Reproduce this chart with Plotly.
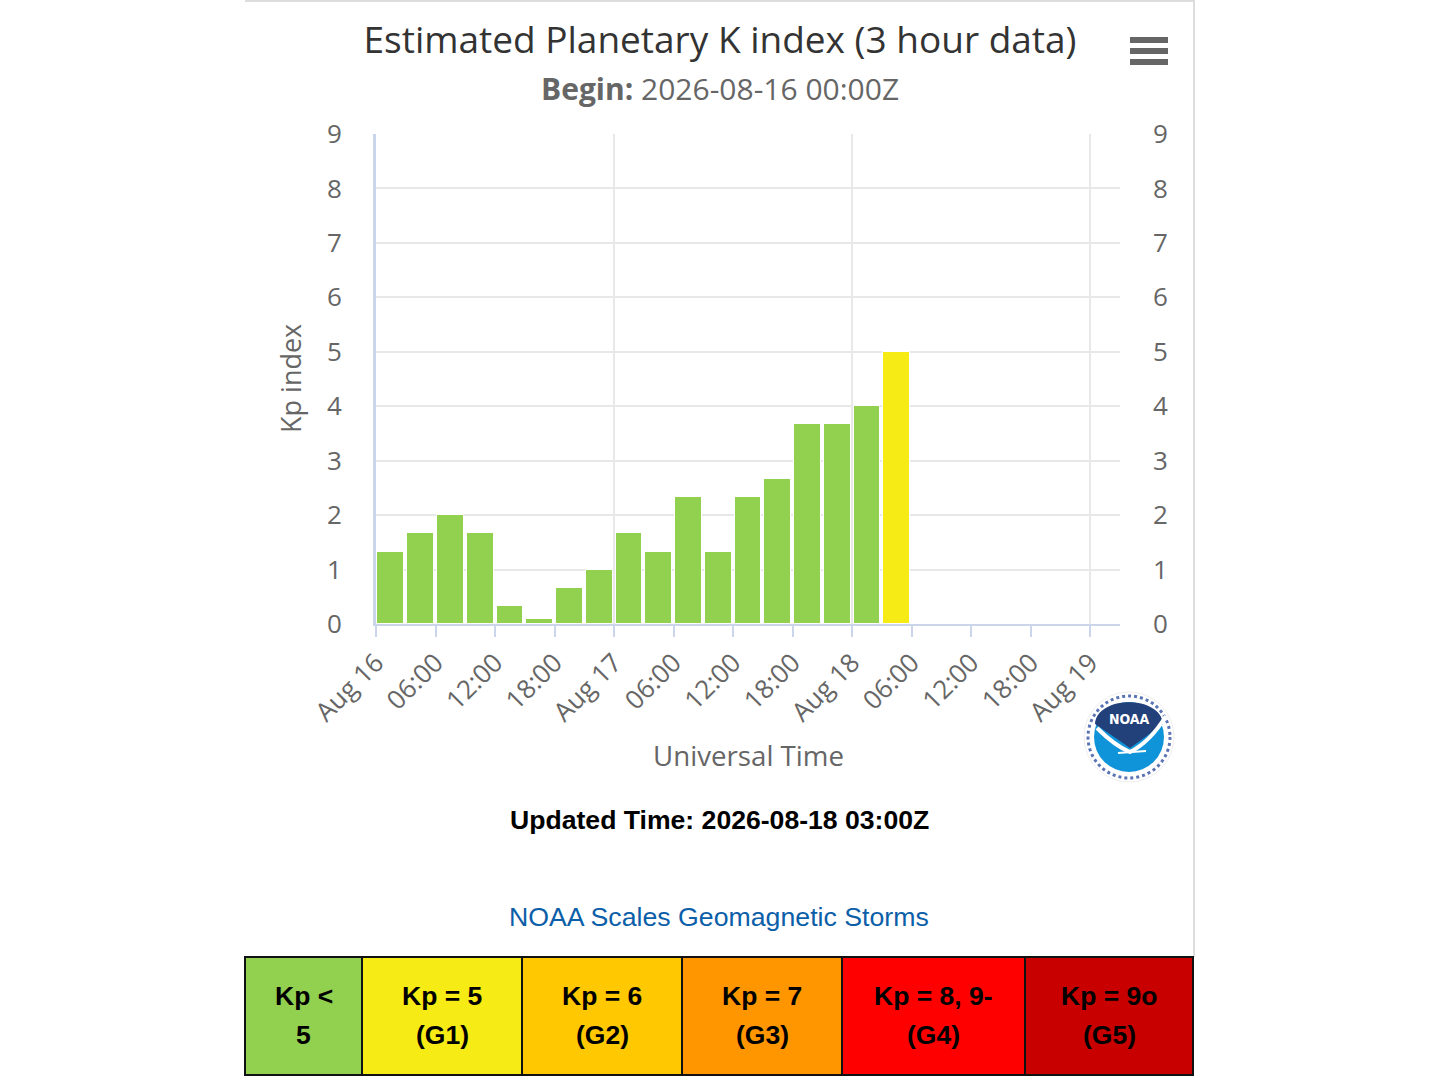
import plotly.graph_objects as go

W, H = 1440, 1080

# 3-hour Kp slots (start time of each slot) and the estimated Kp
slot_start = [
    "2026-08-16 00:00", "2026-08-16 03:00", "2026-08-16 06:00", "2026-08-16 09:00",
    "2026-08-16 12:00", "2026-08-16 15:00", "2026-08-16 18:00", "2026-08-16 21:00",
    "2026-08-17 00:00", "2026-08-17 03:00", "2026-08-17 06:00", "2026-08-17 09:00",
    "2026-08-17 12:00", "2026-08-17 15:00", "2026-08-17 18:00", "2026-08-17 21:00",
    "2026-08-18 00:00", "2026-08-18 03:00",
]
kp_values = [1.33, 1.67, 2.0, 1.67, 0.33, 0.1, 0.67, 1.0, 1.67,
             1.33, 2.33, 1.33, 2.33, 2.67, 3.67, 3.67, 4.0, 5.0]

tick_times = [
    "2026-08-16 00:00", "2026-08-16 06:00", "2026-08-16 12:00", "2026-08-16 18:00",
    "2026-08-17 00:00", "2026-08-17 06:00", "2026-08-17 12:00", "2026-08-17 18:00",
    "2026-08-18 00:00", "2026-08-18 06:00", "2026-08-18 12:00", "2026-08-18 18:00",
    "2026-08-19 00:00",
]
tick_labels = ["Aug 16", "06:00", "12:00", "18:00", "Aug 17", "06:00", "12:00",
               "18:00", "Aug 18", "06:00", "12:00", "18:00", "Aug 19"]
day_lines = ["2026-08-16 00:00", "2026-08-17 00:00", "2026-08-18 00:00", "2026-08-19 00:00"]
x_range = ["2026-08-16 00:00", "2026-08-19 03:00"]

# NOAA G-scale legend
scale_kp = [0, 5, 6, 7, 8, 9.5]
scale_top = ["Kp <", "Kp = 5", "Kp = 6", "Kp = 7", "Kp = 8, 9-", "Kp = 9o"]
scale_bottom = ["5", "(G1)", "(G2)", "(G3)", "(G4)", "(G5)"]
scale_colors = ["#92d050", "#f6eb14", "#ffc800", "#ff9600", "#ff0000", "#c80000"]


def fx(p):
    return p / W


def fy(p):
    return 1 - p / H


def kp_color(v):
    c = scale_colors[0]
    for k, col in zip(scale_kp, scale_colors):
        if v >= k:
            c = col
    return c


def path(cmds):
    '''pixel path -> paper path'''
    out = []
    for cmd, pts in cmds:
        out.append(cmd + " ".join(f"{fx(a):.5f},{fy(b):.5f}" for a, b in pts))
    return " ".join(out)


HOUR = 3600 * 1000
bar_w = 2.7 * HOUR

fig = go.Figure()
fig.add_trace(go.Bar(
    x=slot_start, y=kp_values,
    width=bar_w, offset=(3 * HOUR - bar_w) / 2,
    marker=dict(color=[kp_color(v) for v in kp_values],
                line=dict(color="white", width=1)),
    showlegend=False,
))
# mirror on the right hand axis
fig.add_trace(go.Scatter(
    x=slot_start, y=kp_values, xaxis="x2", yaxis="y2",
    mode="markers", marker=dict(opacity=0), hoverinfo="skip", showlegend=False,
))

tick_font = dict(family="Open Sans", size=26, color="#666666")
fig.update_layout(
    width=W, height=H,
    margin=dict(l=0, r=0, t=0, b=0, autoexpand=False),
    paper_bgcolor="white", plot_bgcolor="white",
    bargap=0,
    title=dict(text="Estimated Planetary K index (3 hour data)",
               x=fx(720), xref="container", xanchor="center",
               y=fy(40), yref="container", yanchor="middle",
               font=dict(family="Open Sans", size=37, color="#333333")),
    xaxis=dict(domain=[fx(376), fx(1120)], range=x_range, type="date",
               tickvals=tick_times, ticktext=tick_labels, tickangle=-45,
               ticks="outside", ticklen=11, tickcolor="#ccd6eb", tickwidth=2,
               showline=True, linecolor="#ccd6eb", linewidth=2,
               showgrid=False, zeroline=False, tickfont=tick_font,
               automargin=False),
    xaxis2=dict(domain=[fx(376), fx(1120)], range=x_range, type="date",
                overlaying="x", anchor="y", tickvals=day_lines,
                showticklabels=False, ticks="", showgrid=True,
                gridcolor="#e8e8e8", gridwidth=2, zeroline=False,
                automargin=False),
    yaxis=dict(domain=[fy(624), fy(134)], range=[0, 9], dtick=1,
               showgrid=True, gridcolor="#e8e8e8", gridwidth=2,
               showline=True, linecolor="#ccd6eb", linewidth=3,
               zeroline=False, ticks="", ticklabelstandoff=26, tickfont=tick_font,
               automargin=False),
    yaxis2=dict(domain=[fy(624), fy(134)], range=[0, 9], dtick=1,
                overlaying="y", side="right", anchor="x",
                showgrid=False, zeroline=False, ticks="",
                ticklabelstandoff=32, tickfont=tick_font, automargin=False),
)

ann = [
    dict(text="<b>Begin:</b> 2026-08-16 00:00Z", x=fx(720), y=fy(89),
         font=dict(family="Open Sans", size=30, color="#666666")),
    dict(text="Kp index", x=fx(291), y=fy(379), textangle=-90,
         font=dict(family="Open Sans", size=27, color="#666666")),
    dict(text="Universal Time", x=fx(748), y=fy(755),
         font=dict(family="Open Sans", size=27.7, color="#666666")),
    dict(text="<b>Updated Time: 2026-08-18 03:00Z</b>", x=fx(719), y=fy(820),
         font=dict(family="Liberation Sans", size=26.6, color="#000000")),
    dict(text="NOAA Scales Geomagnetic Storms", x=fx(719), y=fy(917),
         font=dict(family="Liberation Sans", size=26.7, color="#0b5ea8")),
    dict(text="<b>NOAA</b>", x=fx(1129), y=fy(719),
         font=dict(family="DejaVu Sans Condensed, DejaVu Sans", size=14, color="white")),
]

shapes = [
    # container border
    dict(type="line", x0=fx(245), x1=fx(1194), y0=fy(1), y1=fy(1),
         line=dict(color="#dddddd", width=2)),
    dict(type="line", x0=fx(1194), x1=fx(1194), y0=fy(0), y1=fy(957),
         line=dict(color="#dddddd", width=2)),
]
# hamburger menu
for top in (37, 48, 59):
    shapes.append(dict(type="rect", x0=fx(1130), x1=fx(1168), y0=fy(top), y1=fy(top + 6),
                       fillcolor="#666666", line=dict(width=0)))

# NOAA emblem
cx, cy = 1129, 737
shapes += [
    dict(type="circle", x0=fx(cx - 45), x1=fx(cx + 45), y0=fy(cy - 45), y1=fy(cy + 45),
         fillcolor="white", line=dict(color="#eeeeee", width=1)),
    dict(type="circle", x0=fx(cx - 41), x1=fx(cx + 41), y0=fy(cy - 41), y1=fy(cy + 41),
         fillcolor="rgba(0,0,0,0)", line=dict(color="#5a74b4", width=3, dash="dot")),
    dict(type="circle", x0=fx(cx - 35), x1=fx(cx + 35), y0=fy(cy - 35), y1=fy(cy + 35),
         fillcolor="#1094d9", line=dict(width=0)),
    dict(type="path", fillcolor="#22407a", line=dict(width=0),
         path=path([("M", [(1095, 724)]),
                    ("C", [(1097, 695), (1161, 695), (1163, 724)]),
                    ("Q", [(1147, 736), (1130, 748)]),
                    ("Q", [(1113, 736), (1095, 724)])]) + " Z"),
    dict(type="path", line=dict(color="white", width=4),
         path=path([("M", [(1097, 728)]),
                    ("Q", [(1115, 746), (1130, 752)]),
                    ("Q", [(1150, 742), (1166, 716)])])),
    dict(type="line", x0=fx(1118), x1=fx(1146), y0=fy(753), y1=fy(751),
         line=dict(color="white", width=2)),
]

# G-scale table
edges = [245, 362, 522, 682, 842, 1025, 1193]
for i, col in enumerate(scale_colors):
    shapes.append(dict(type="rect", x0=fx(edges[i]), x1=fx(edges[i + 1]),
                       y0=fy(957), y1=fy(1075), fillcolor=col,
                       line=dict(color="#111111", width=2)))
    mid = (edges[i] + edges[i + 1]) / 2
    for txt, ypix in ((scale_top[i], 996), (scale_bottom[i], 1035)):
        ann.append(dict(text=f"<b>{txt}</b>", x=fx(mid), y=fy(ypix),
                        font=dict(family="Liberation Sans", size=26.5, color="#000000")))

for s in shapes:
    s.update(xref="paper", yref="paper")
for a in ann:
    a.update(xref="paper", yref="paper", showarrow=False,
             xanchor="center", yanchor="middle")

fig.update_layout(annotations=ann, shapes=shapes)
# put the figure flush with the page corner, no plotly toolbar
fig.write_html("out.html",
               config={"displayModeBar": False},
               post_script="document.body.style.margin='0';"
                           "document.body.style.overflow='hidden';")
